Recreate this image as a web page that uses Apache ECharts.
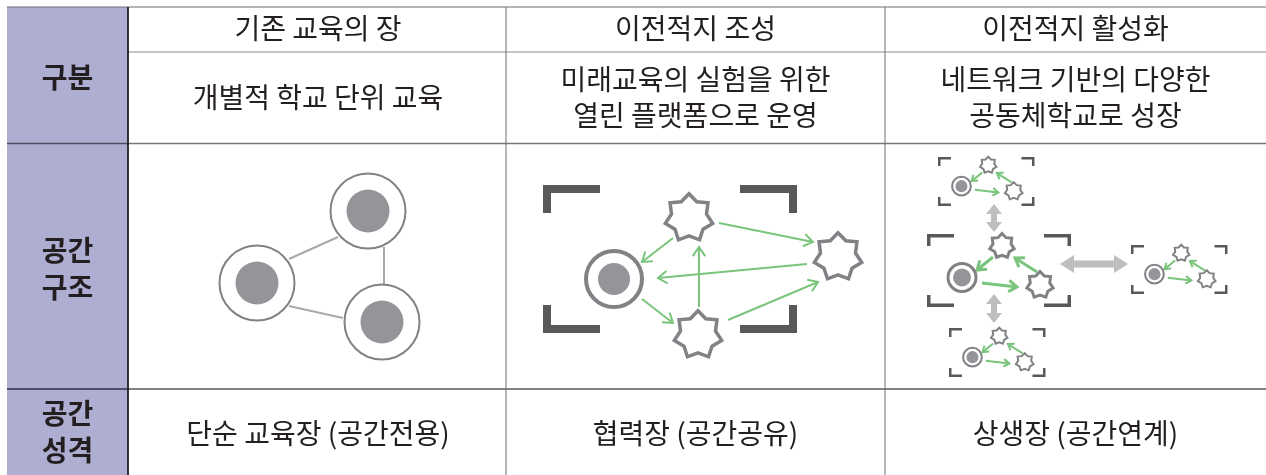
<!DOCTYPE html>
<html><head><meta charset="utf-8">
<script src="https://cdn.jsdelivr.net/npm/echarts@6/dist/echarts.min.js"></script>
<style>html,body{margin:0;padding:0;background:#fff}#c{width:1266px;height:475px}</style>
</head><body><div id="c"></div>
<script>
// ---------- content ----------
const columnTitles = ['기존 교육의 장', '이전적지 조성', '이전적지 활성화'];
const columnDescriptions = [['개별적 학교 단위 교육'], ['미래교육의 실험을 위한', '열린 플랫폼으로 운영'], ['네트워크 기반의 다양한', '공동체학교로 성장']];
const rowTitles = [['구분'], ['공간', '구조'], ['공간', '성격']];
const spaceCharacters = ['단순 교육장 (공간전용)', '협력장 (공간공유)', '상생장 (공간연계)'];

// ---------- diagram nodes (chart coordinates) ----------
const panel1Schools = [[368, 211], [257, 283], [382, 322]];
const panel1Links = [[[338, 237], [289, 259]], [[289, 306], [343, 318]], [[384, 247], [384, 284]]];
const panel2School = [[614, 279]];
const panel2Partners = [[689, 218], [838, 257], [698, 335]];
const panel2Flows = [[[673, 238], [642, 262]], [[719, 223], [813, 242]], [[807, 264], [658, 278]], [[699, 307], [699, 247]], [[642, 299], [673, 323]], [[728, 320], [818, 282]]];
const panel2Frame = [[543, 185, 797, 333]];
const panel3Clusters = [[927, 234, 1], [938, 157, 0.67], [949, 328, 0.67], [1131, 245, 0.67]];
const clusterSchool = [35, 43.5];
const clusterPartners = [[75, 12], [113, 51]];
const clusterFlows = [[[66, 23], [50, 36]], [[110, 38], [88, 24]], [[55, 49], [90, 53]]];
const panel3Links = [[[994, 204], [994, 232]], [[994, 294], [994, 323]], [[1060, 264], [1128, 264]]];

// ---------- layout & style ----------
const W = 1266, H = 475;
const colX = [7, 128, 506, 885, 1266];
const rowY = [7, 52, 143.5, 389, 475];
const FONT = '"Noto Sans CJK KR", "Noto Sans", sans-serif';
const TXT = '#231F20';
const PURPLE = '#AEAED2';
const GREY = '#808285';
const DARK = '#58595B';
const GREEN = '#7AC47C';
const LIGHT = '#BCBEC0';

const colCenters = [318, 695.5, 1075.5];
const textItems = [];
columnTitles.forEach((t, i) => textItems.push({t, x: colCenters[i], y: 28, s: 28, w: 'normal'}));
columnDescriptions.forEach((lines, i) => {
  const ys = lines.length === 1 ? [97] : [79, 115];
  lines.forEach((t, j) => textItems.push({t, x: colCenters[i], y: ys[j], s: 28, w: 'normal'}));
});
const rowTitleY = [[77], [250, 287], [413, 450]];
rowTitles.forEach((lines, i) => lines.forEach((t, j) => textItems.push({t, x: 67.5, y: rowTitleY[i][j], s: 28, w: 'bold'})));
spaceCharacters.forEach((t, i) => textItems.push({t, x: colCenters[i], y: 433, s: 28, w: 'normal'}));

// ---------- helpers ----------
function px(api, v) { return api.size([v, 0])[0]; }
function line(api, p0, p1, color, width) {
  const a = api.coord(p0), b = api.coord(p1);
  return {type: 'line', shape: {x1: a[0], y1: a[1], x2: b[0], y2: b[1]}, style: {stroke: color, lineWidth: width, lineCap: 'butt'}};
}
function school(api, c, rOuter, rInner, sw) {
  const p = api.coord(c);
  return [
    {type: 'circle', shape: {cx: p[0], cy: p[1], r: px(api, rOuter) - sw / 2}, style: {fill: '#fff', stroke: GREY, lineWidth: sw}},
    {type: 'circle', shape: {cx: p[0], cy: p[1], r: px(api, rInner)}, style: {fill: '#939598'}}
  ];
}
function star(api, c, R, sw) {
  const pts = [];
  const r0 = R - sw / 2;
  for (let i = 0; i < 14; i++) {
    const a = -Math.PI / 2 + i * Math.PI / 7;
    const r = i % 2 === 0 ? r0 : r0 * 0.74;
    pts.push(api.coord([c[0] + r * Math.cos(a), c[1] + r * Math.sin(a)]));
  }
  return {type: 'polygon', shape: {points: pts}, style: {fill: '#fff', stroke: GREY, lineWidth: sw, lineJoin: 'miter'}};
}
function flow(api, p0, p1, head, width) {
  const a = api.coord(p0), b = api.coord(p1);
  const ang = Math.atan2(b[1] - a[1], b[0] - a[0]);
  const h = px(api, head);
  const l = [b[0] - h * Math.cos(ang - 0.6), b[1] - h * Math.sin(ang - 0.6)];
  const r = [b[0] - h * Math.cos(ang + 0.6), b[1] - h * Math.sin(ang + 0.6)];
  return [
    {type: 'line', shape: {x1: a[0], y1: a[1], x2: b[0], y2: b[1]}, style: {stroke: GREEN, lineWidth: width}},
    {type: 'polyline', shape: {points: [l, b, r]}, style: {stroke: GREEN, lineWidth: width, fill: null}}
  ];
}
function brackets(api, f, armH, armV, t) {
  const h = t / 2;
  const sets = [
    [[f[0] + h, f[1] + armV], [f[0] + h, f[1] + h], [f[0] + armH, f[1] + h]],
    [[f[2] - armH, f[1] + h], [f[2] - h, f[1] + h], [f[2] - h, f[1] + armV]],
    [[f[0] + h, f[3] - armV], [f[0] + h, f[3] - h], [f[0] + armH, f[3] - h]],
    [[f[2] - armH, f[3] - h], [f[2] - h, f[3] - h], [f[2] - h, f[3] - armV]]
  ];
  return sets.map(s => ({type: 'polyline', shape: {points: s.map(p => api.coord(p))}, style: {stroke: DARK, lineWidth: t, fill: null, lineJoin: 'miter', lineCap: 'butt'}}));
}
function doubleArrow(api, p0, p1, shaftHalf, headHalf, headLen) {
  const a = api.coord(p0), b = api.coord(p1);
  const dx = b[0] - a[0], dy = b[1] - a[1], L = Math.hypot(dx, dy);
  const ux = dx / L, uy = dy / L, nx = -uy, ny = ux;
  const P = (t, s) => [a[0] + ux * t + nx * s, a[1] + uy * t + ny * s];
  return {type: 'polygon', shape: {points: [P(0, 0), P(headLen, headHalf), P(headLen, shaftHalf), P(L - headLen, shaftHalf), P(L - headLen, headHalf), P(L, 0), P(L - headLen, -headHalf), P(L - headLen, -shaftHalf), P(headLen, -shaftHalf), P(headLen, -headHalf)]}, style: {fill: LIGHT}};
}

// ---------- series ----------
const tableSeries = {
  type: 'custom', z: 1, silent: true, data: [[0, 0]],
  renderItem(params, api) {
    const ch = [];
    const a = api.coord([colX[0], rowY[0]]), b = api.coord([colX[1], rowY[4]]);
    ch.push({type: 'rect', shape: {x: a[0], y: a[1], width: b[0] - a[0], height: b[1] - a[1]}, style: {fill: PURPLE}});
    ch.push(line(api, [colX[0], rowY[0]], [W, rowY[0]], '#6D6E71', 1.2));
    ch.push(line(api, [colX[1], rowY[1]], [W, rowY[1]], '#8A8B8E', 1.2));
    ch.push(line(api, [colX[0], rowY[2]], [colX[1], rowY[2]], '#4E4E66', 1.5));
    ch.push(line(api, [colX[1], rowY[2]], [W, rowY[2]], '#76777A', 1.5));
    ch.push(line(api, [colX[0], rowY[3]], [colX[1], rowY[3]], '#4E4E66', 2.2));
    ch.push(line(api, [colX[1], rowY[3]], [W, rowY[3]], '#808285', 2.2));
    ch.push(line(api, [colX[2], rowY[0]], [colX[2], rowY[4]], '#6D6E71', 1));
    ch.push(line(api, [colX[3], rowY[0]], [colX[3], rowY[4]], '#6D6E71', 1));
    ch.push(line(api, [colX[1], rowY[0]], [colX[1], rowY[4]], '#231F20', 1.8));
    return {type: 'group', children: ch};
  }
};

const textSeries = {
  type: 'custom', z: 5, silent: true,
  data: textItems.map(d => [d.x, d.y]),
  renderItem(params, api) {
    const d = textItems[params.dataIndex];
    const p = api.coord([api.value(0), api.value(1)]);
    return {type: 'text', style: {text: d.t, x: p[0], y: p[1], fill: TXT, fontSize: d.s, fontWeight: d.w, fontFamily: FONT, align: 'center', verticalAlign: 'middle'}};
  }
};

const panel1Series = {
  type: 'custom', z: 3, silent: true, data: [[0, 0]],
  renderItem(params, api) {
    const ch = [];
    panel1Links.forEach(l => ch.push(line(api, l[0], l[1], '#A7A9AC', 2)));
    panel1Schools.forEach(s => ch.push(...school(api, s, 38.5, 21.5, 2)));
    return {type: 'group', children: ch};
  }
};

const panel2Series = {
  type: 'custom', z: 3, silent: true, data: [[0, 0]],
  renderItem(params, api) {
    const ch = [];
    panel2Frame.forEach(f => ch.push(...brackets(api, f, 57, 28, 8)));
    panel2Flows.forEach(f => ch.push(...flow(api, f[0], f[1], 11, 2)));
    panel2School.forEach(s => ch.push(...school(api, s, 30, 16, 4)));
    panel2Partners.forEach(s => ch.push(star(api, s, 26, 3.5)));
    return {type: 'group', children: ch};
  }
};

const panel3Series = {
  type: 'custom', z: 3, silent: true, data: [[0, 0]],
  renderItem(params, api) {
    const ch = [];
    panel3Links.forEach(l => ch.push(doubleArrow(api, l[0], l[1], l[0][1] === l[1][1] ? 3.5 : 3, l[0][1] === l[1][1] ? 9 : 8, l[0][1] === l[1][1] ? 14 : 10)));
    panel3Clusters.forEach(cl => {
      const [x0, y0, k] = cl;
      const T = p => [x0 + p[0] * k, y0 + p[1] * k];
      const big = k === 1;
      ch.push(...brackets(api, [x0, y0, x0 + 144 * k, y0 + 73 * k], big ? 27 : 13, big ? 12 : 9, big ? 3.5 : 2.5));
      clusterFlows.forEach(f => ch.push(...flow(api, T(f[0]), T(f[1]), 10 * k, 3 * k)));
      ch.push(...school(api, T(clusterSchool), 15.5 * k, 9 * k, 3 * k));
      clusterPartners.forEach((s, i) => ch.push(star(api, T(s), (i === 0 ? 14 : 15) * k, 3 * k)));
    });
    return {type: 'group', children: ch};
  }
};

const chart = echarts.init(document.getElementById('c'), null, {renderer: 'canvas'});
chart.setOption({
  animation: false,
  backgroundColor: '#fff',
  grid: {left: 0, right: 0, top: 0, bottom: 0},
  xAxis: {type: 'value', min: 0, max: W, show: false},
  yAxis: {type: 'value', min: 0, max: H, inverse: true, show: false},
  series: [tableSeries, panel1Series, panel2Series, panel3Series, textSeries]
});
</script>
</body></html>
